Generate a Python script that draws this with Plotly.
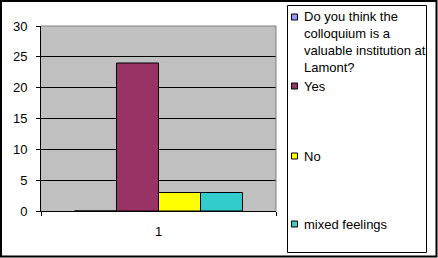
import plotly.graph_objects as go

# ---- data ----
categories = ["1"]
series_names = [
    "Do you think the<br>colloquium is a<br>valuable institution at<br>Lamont?",
    "Yes",
    "No",
    "mixed feelings",
]
series_values = [0, 24, 3, 3]
series_colors = ["#9999FF", "#993366", "#FFFF00", "#33CCCC"]
y_ticks = [0, 5, 10, 15, 20, 25, 30]

W, H = 438, 258
L, R, T, B = 41, 276, 26, 211  # plot area in pixels


def px(x):
    return (x - L) / (R - L)


def py(y):
    return (B - y) / (B - T)


FONT = "Liberation Sans, Arial, sans-serif"

fig = go.Figure()
for name, val, col in zip(series_names, series_values, series_colors):
    fig.add_trace(go.Bar(
        x=categories, y=[val], name=name,
        marker=dict(color=col, line=dict(color="black", width=1)),
        showlegend=False,
    ))

fig.update_layout(
    width=W, height=H,
    margin=dict(l=L, r=W - R, t=T, b=H - B),
    paper_bgcolor="white",
    plot_bgcolor="#C0C0C0",
    barmode="group",
    bargap=0.285,
    bargroupgap=0,
    font=dict(family=FONT, size=13, color="black"),
)
fig.update_yaxes(
    range=[0, 30], tickvals=y_ticks, showgrid=True, gridcolor="black", gridwidth=1,
    showline=True, linecolor="black", linewidth=1,
    ticks="outside", ticklen=4, tickcolor="black", tickwidth=1,
    ticklabelstandoff=6, zeroline=False,
    tickfont=dict(family=FONT, size=13, color="black"),
)
fig.update_xaxes(
    showline=True, linecolor="black", linewidth=1,
    ticks="outside", tickson="boundaries", ticklen=4, tickcolor="black", tickwidth=1,
    ticklabelstandoff=8, showgrid=False,
    tickfont=dict(family=FONT, size=13, color="black"),
)

shapes = []
# plot area border (top & right, gray)
shapes.append(dict(type="line", xref="paper", yref="paper", x0=0, x1=1, y0=1, y1=1,
                   line=dict(color="#808080", width=1)))
shapes.append(dict(type="line", xref="paper", yref="paper", x0=1, x1=1, y0=0, y1=1,
                   line=dict(color="#808080", width=1)))
# outer chart border
shapes.append(dict(type="rect", xref="paper", yref="paper",
                   x0=px(1), x1=px(436.5), y0=py(1), y1=py(256.5),
                   line=dict(color="black", width=2)))
# legend box
shapes.append(dict(type="rect", xref="paper", yref="paper",
                   x0=px(287.5), x1=px(426.5), y0=py(5.5), y1=py(252.5),
                   line=dict(color="black", width=1)))

annotations = []
entry_y = [16, 85, 155, 223]  # first-line centers of legend entries (pixels)
for name, col, yc in zip(series_names, series_colors, entry_y):
    shapes.append(dict(type="rect", xref="paper", yref="paper",
                       x0=px(291.5), x1=px(297.5), y0=py(yc - 2), y1=py(yc + 4),
                       fillcolor=col, line=dict(color="black", width=1)))
    annotations.append(dict(
        xref="paper", yref="paper", x=px(302), y=py(yc - 8.5),
        xanchor="left", yanchor="top", align="left", showarrow=False,
        text=name, font=dict(family=FONT, size=13, color="black"),
    ))

fig.update_layout(shapes=shapes, annotations=annotations)
fig.write_html("out.html")
